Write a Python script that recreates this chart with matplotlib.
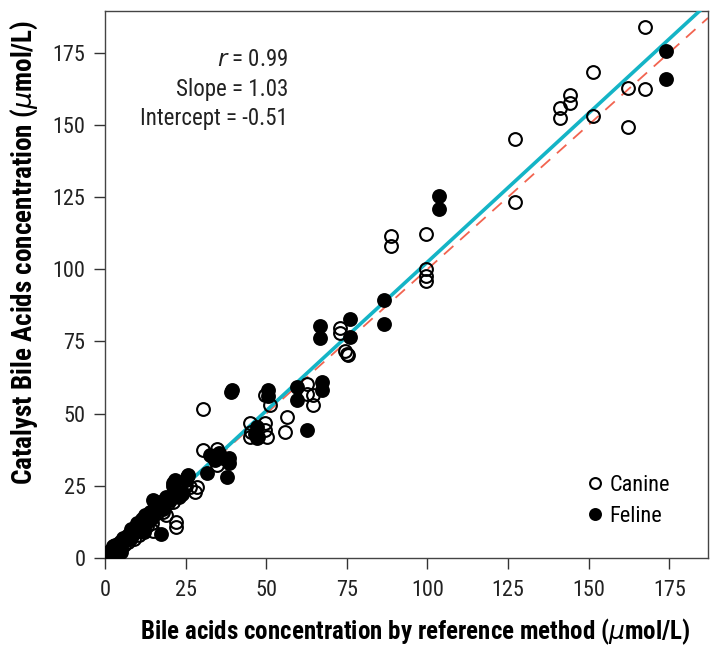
import matplotlib
matplotlib.use("Agg")
import matplotlib.pyplot as plt
import numpy as np

plt.rcParams['font.family'] = ['Roboto Condensed', 'DejaVu Sans']

# Canine samples (reference method, Catalyst)
canine_x = [1, 1.5, 2, 2.5, 3, 3, 4, 4.5, 5, 5.5, 6, 6.5, 7, 8, 8.5, 9, 10, 10.5, 11, 12,
            12.5, 13, 14, 14.5, 15, 16, 17, 18, 19, 19.5, 20, 21, 22, 22, 22.5, 24, 25, 26.5, 28, 28.4,
            30.5, 30.5, 34.6, 34.6, 33.5, 44.9, 45.4, 44.9, 49.6, 49.6, 50.1, 49.6, 51.1, 56.3, 55.8,
            62.5, 62.5, 64.5, 64.5, 72.8, 72.8, 74.5, 75.0, 75.5, 99.6, 99.6, 99.6, 88.6, 88.6, 99.4,
            127.0, 127.0, 141.0, 141.0, 144.1, 144.1, 151.3, 151.3, 162.1, 162.2, 167.6, 167.5]
canine_y = [1, 2.5, 0.5, 3.5, 2, 4.5, 3, 5.5, 2, 6, 4.5, 7, 5.5, 7, 9, 6.5, 9.5, 8, 11.5, 10,
            13, 11, 14, 12, 9.5, 15.5, 17, 16, 14.9, 19, 21, 19.5, 12.5, 10.8, 24, 22, 25, 24.5, 22.9, 24.6,
            51.7, 37.3, 37.9, 32.1, 35, 46.6, 43.5, 42, 46.7, 44.2, 41.9, 56.3, 52.9, 48.8, 43.7,
            60.4, 56.9, 56.3, 52.9, 79.8, 77.8, 71.5, 70.8, 70.3, 100.1, 97.8, 95.9, 111.6, 108.0, 112.2,
            145.0, 123.2, 155.8, 152.3, 160.3, 157.4, 168.4, 153.1, 162.7, 149.3, 162.3, 183.8]

# Feline samples (reference method, Catalyst)
feline_x = [0.5, 1, 2, 2.5, 3, 3.5, 4, 4.5, 5, 5.5, 6, 7, 7.5, 8, 9, 9.5, 10, 11, 11.5, 12,
            12.5, 13, 14, 14.5, 15, 15.5, 16, 17, 17.3, 18, 19, 20, 21, 21.2, 21.7, 22, 23, 24, 25, 25.3, 25.8,
            31.5, 32.5, 34, 35.5, 36.5, 37.7, 38.5, 38.5, 39.4, 39.2, 47.0, 47.0, 46.5, 47.5, 50.6, 50.6,
            59.4, 59.4, 62.7, 66.6, 66.6, 67.4, 67.4, 75.9, 75.9, 86.5, 86.5, 103.5, 103.5, 174.0, 174.0]
feline_y = [0.5, 2, 1, 4, 1.5, 3, 5, 2.5, 4, 7, 6, 8, 6.5, 10, 8.5, 11, 12, 10, 13.5, 9,
            15, 12.5, 16, 14, 20, 18, 17, 19.5, 8.3, 17, 21, 20, 26, 25, 27, 22.5, 21, 23, 27, 28.1, 28.7,
            29.3, 35.6, 34, 36.5, 34.5, 27.9, 34.5, 33, 58.3, 57.5, 45.4, 41.4, 43, 41.8, 58.3, 56.2,
            59.2, 54.6, 44.2, 80.2, 76.3, 61.0, 58.1, 82.6, 76.5, 89.4, 80.9, 125.5, 120.9, 175.6, 166.0]

stats_lines = [r"$r$ = 0.99", "Slope = 1.03", "Intercept = -0.51"]
slope = 1.03
intercept = -0.51

fig = plt.figure(figsize=(7.13, 6.48), dpi=100)
ax = fig.add_axes([0.1473, 0.1389, 0.8457, 0.8446])

xmax, ymax = 187, 189.5
xs = np.array([0, xmax])
ax.plot(xs, xs, color='#f26450', lw=1.3, dashes=(7, 5), zorder=2)
ax.plot(xs, slope * xs + intercept, color='#14b4c6', lw=2.6, zorder=3)

ax.plot(canine_x, canine_y, 'o', ms=9.2, mfc='none', mec='black', mew=1.5,
        label='Canine', zorder=4)
ax.plot(feline_x, feline_y, 'o', ms=9.2, mfc='black', mec='black', mew=1.5,
        label='Feline', zorder=4)

ax.set_xlim(0, xmax)
ax.set_ylim(0, ymax)
ticks = np.arange(0, 176, 25)
ax.set_xticks(ticks)
ax.set_yticks(ticks)
ax.tick_params(axis='both', direction='out', length=8, width=1, color='#333333',
               labelsize=16, labelcolor='#222222', top=False, right=False)
ax.tick_params(axis='x', pad=8)
ax.tick_params(axis='y', pad=6)
for sp in ax.spines.values():
    sp.set_color('#444444')
    sp.set_linewidth(1)

ax.set_xlabel(r"Bile acids concentration by reference method ($\mu$mol/L)",
              fontsize=18, fontweight='bold', labelpad=11, x=0.514)
ax.set_ylabel(r"Catalyst Bile Acids concentration ($\mu$mol/L)",
              fontsize=19.5, fontweight='bold', labelpad=9, y=0.558)

for i, line in enumerate(stats_lines):
    ax.text(0.3035, 0.910 - i * 0.0535, line, transform=ax.transAxes,
            ha='right', va='center', fontsize=16.5, color='#222222')

leg = ax.legend(loc='lower right', frameon=False, fontsize=16, handletextpad=0.05,
                handlelength=1.2, markerscale=0.85, labelspacing=0.45,
                bbox_to_anchor=(0.97, 0.02))

fig.savefig('out.png', dpi=100)
